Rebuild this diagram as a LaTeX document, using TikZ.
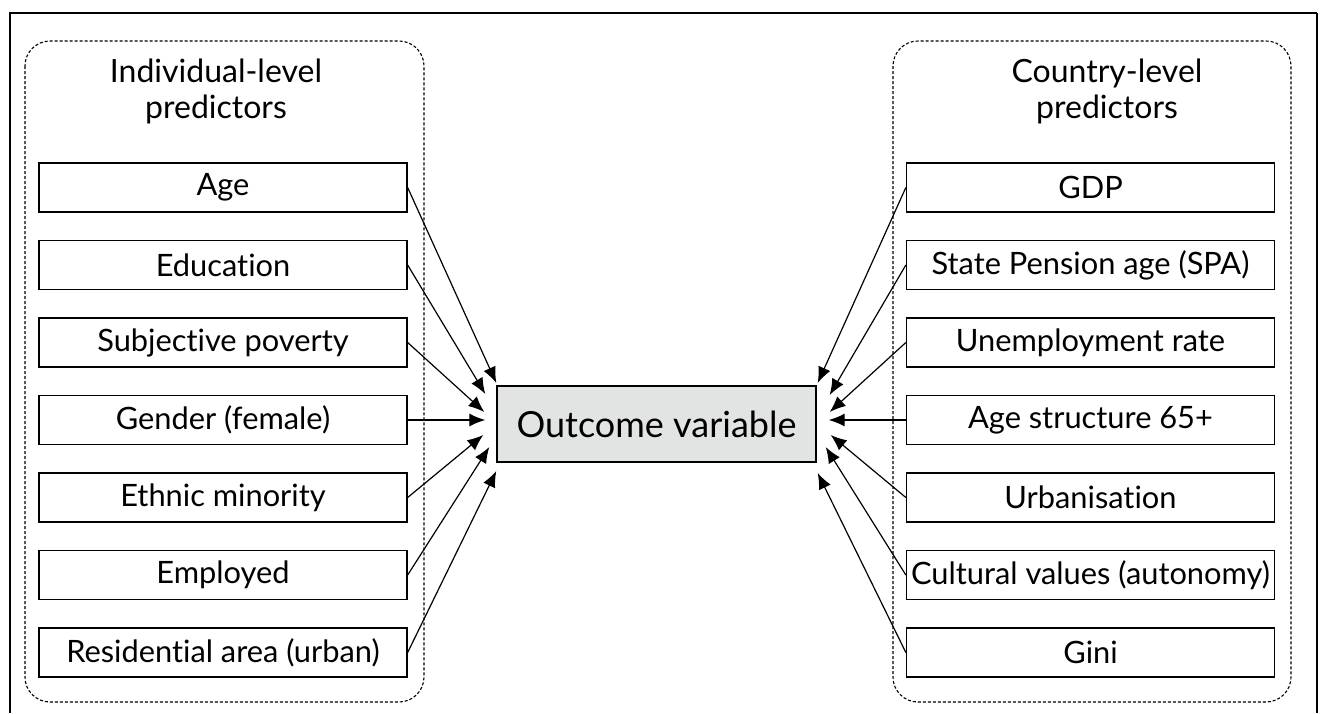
\documentclass[tikz,border=0pt]{standalone}
\usepackage{fontspec}
\setmainfont{Lato}[Ligatures=NoCommon]
\usetikzlibrary{arrows.meta}
\definecolor{outfill}{RGB}{226,228,227}
\begin{document}
\begin{tikzpicture}[x=1pt,y=-1pt,
  predbox/.style={draw, line width=1.3pt, minimum width=368pt, minimum height=49pt,
    inner sep=0pt, font=\fontsize{30.8}{34}\selectfont},
  group/.style={draw, line width=1.1pt, dash pattern=on 3pt off 2pt, rounded corners=25pt},
  link/.style={-{Latex[length=16pt,width=13pt]}, line width=1.2pt},
  grouptitle/.style={align=center, font=\fontsize{32}{36}\selectfont},
  outbox/.style={draw, line width=1.4pt, fill=outfill, minimum width=319pt, minimum height=76pt,
    inner sep=0pt, font=\fontsize{36}{40}\selectfont}
]
\useasboundingbox (0,0) rectangle (1322,713);

% open frame (no bottom edge)
\draw[line width=2pt] (10,713) -- (10,13) -- (1317,13);
\draw[line width=1.2pt] (1317,13) -- (1317,713);

% predictor groups
\draw[group] (25,41) rectangle (424,702);
\draw[group] (893,41) rectangle (1291,702);
\node[grouptitle] (ltitle) at (216,91) {Individual-level\\predictors};
\node[grouptitle] (rtitle) at (1107,91) {Country-level\\predictors};

% individual-level predictors
\node[predbox] (l1) at (223,187.5) {Age};
\node[predbox] (l2) at (223,265) {Education};
\node[predbox] (l3) at (223,342.5) {Subjective poverty};
\node[predbox] (l4) at (223,420) {Gender (female)};
\node[predbox] (l5) at (223,497.5) {Ethnic minority};
\node[predbox] (l6) at (223,575) {Employed};
\node[predbox] (l7) at (223,652.5) {Residential area (urban)};

% country-level predictors
\node[predbox] (r1) at (1090.5,187.5) {GDP};
\node[predbox] (r2) at (1090.5,265) {State Pension age (SPA)};
\node[predbox] (r3) at (1090.5,342.5) {Unemployment rate};
\node[predbox] (r4) at (1090.5,420) {Age structure 65+};
\node[predbox] (r5) at (1090.5,497.5) {Urbanisation};
\node[predbox] (r6) at (1090.5,575) {Cultural values (autonomy)};
\node[predbox] (r7) at (1090.5,652.5) {Gini};

% outcome
\node[outbox] (out) at (656.5,424) {Outcome variable};

% arrow tips around the outcome box
\coordinate (tl1) at ([shift={(0,-41)}]out.west);
\coordinate (tl2) at ([shift={(-11,-30)}]out.west);
\coordinate (tl3) at ([shift={(-12,-12)}]out.west);
\coordinate (tl4) at ([shift={(-11,-4)}]out.west);
\coordinate (tl5) at ([shift={(-13,11)}]out.west);
\coordinate (tl6) at ([shift={(-7,23)}]out.west);
\coordinate (tl7) at ([shift={(0,47)}]out.west);

\coordinate (tr1) at ([shift={(1,-41)}]out.east);
\coordinate (tr2) at ([shift={(13,-29)}]out.east);
\coordinate (tr3) at ([shift={(13,-12)}]out.east);
\coordinate (tr4) at ([shift={(12,-4)}]out.east);
\coordinate (tr5) at ([shift={(14,11)}]out.east);
\coordinate (tr6) at ([shift={(9,23)}]out.east);
\coordinate (tr7) at ([shift={(1,49)}]out.east);

\foreach \i in {1,...,7} {
  \draw[link] (l\i.east) -- (tl\i);
  \draw[link] (r\i.west) -- (tr\i);
}
\end{tikzpicture}
\end{document}
